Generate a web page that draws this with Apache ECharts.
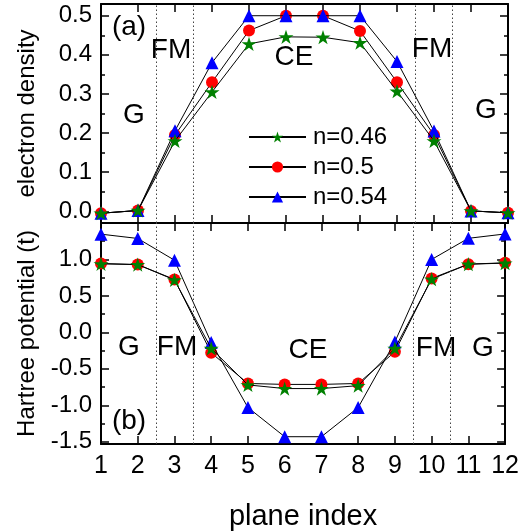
<!DOCTYPE html>
<html>
<head>
<meta charset="utf-8">
<script src="https://cdn.jsdelivr.net/npm/echarts@6/dist/echarts.min.js"></script>
<style>
  html, body { margin: 0; padding: 0; background: #fff; }
  #chart { width: 522px; height: 532px; }
</style>
</head>
<body>
<div id="chart"></div>
<script>
// plane index along the stack
const planes = [1, 2, 3, 4, 5, 6, 7, 8, 9, 10, 11, 12];

// series names (filling n)
const names = ['n=0.46', 'n=0.5', 'n=0.54'];

// (a) electron density per plane
const density046 = [-0.005, 0.002, 0.18, 0.305, 0.428, 0.446, 0.445, 0.431, 0.307, 0.18, 0.001, -0.004];
const density050 = [-0.005, 0.002, 0.195, 0.33, 0.462, 0.5, 0.5, 0.461, 0.33, 0.195, 0.001, -0.004];
const density054 = [-0.005, 0.002, 0.206, 0.38, 0.5, 0.5, 0.5, 0.5, 0.383, 0.205, 0.001, -0.004];

// (b) Hartree potential per plane, in units of t
const hartree046 = [0.94, 0.93, 0.72, -0.22, -0.72, -0.77, -0.77, -0.73, -0.22, 0.73, 0.935, 0.95];
const hartree050 = [0.945, 0.93, 0.726, -0.28, -0.70, -0.713, -0.713, -0.70, -0.266, 0.74, 0.936, 0.954];
const hartree054 = [1.347, 1.288, 0.99, -0.14, -1.03, -1.43, -1.43, -1.03, -0.13, 1.0, 1.29, 1.35];

// boundaries between magnetic regions
const boundaries = [2.5, 3.5, 9.5, 10.5];

const FONT = '"Liberation Sans", Arial, Helvetica, sans-serif';
const starPath = 'path://M100,0 L122.45,69.1 L195.1,69.1 L136.3,111.8 L158.8,180.9 L100,138.2 L41.2,180.9 L63.7,111.8 L4.9,69.1 L77.55,69.1 Z';

const pairs = v => planes.map((x, i) => [x, v[i]]);

const styles = {
  'n=0.46': { symbol: starPath, color: '#008000', size: 15, z: 4 },
  'n=0.5':  { symbol: 'circle', color: '#ff0000', size: 12, z: 2 },
  'n=0.54': { symbol: 'triangle', color: '#0000ff', size: 13, z: 3 }
};

function lineSeries(name, values, axisIdx) {
  const s = styles[name];
  return {
    name, type: 'line',
    xAxisIndex: axisIdx, yAxisIndex: axisIdx,
    data: pairs(values),
    symbol: s.symbol, symbolSize: s.size, symbolKeepAspect: true,
    showAllSymbol: true,
    z: s.z,
    clip: false,
    lineStyle: { color: '#000', width: 1 },
    itemStyle: { color: s.color, borderWidth: 0 },
    animation: false
  };
}

function boundaryLines(yMin, yMax) {
  return {
    silent: true, symbol: 'none', label: { show: false },
    lineStyle: { color: '#444', type: [1.5, 2.5], width: 1 },
    data: boundaries.map(b => [{ coord: [b, yMin] }, { coord: [b, yMax] }]),
    animation: false
  };
}

const axisLine = { show: true, onZero: false, lineStyle: { color: '#000', width: 2 } };
const tick = { show: true, inside: true, length: 8, lineStyle: { color: '#000', width: 1.5 } };
const minor = { show: true, splitNumber: 2, length: 4, lineStyle: { color: '#000', width: 1.5 } };

function xAxis(grid, pos, labels) {
  const a = {
    type: 'value', gridIndex: grid, position: pos, min: 1, max: 12, interval: 1,
    axisLine, axisTick: tick, splitLine: { show: false },
    axisLabel: { show: labels, color: '#000', fontSize: 25, fontFamily: FONT, margin: 10 }
  };
  if (labels) {
    a.name = 'plane index';
    a.nameLocation = 'middle';
    a.nameGap = 58;
    a.nameTextStyle = { color: '#000', fontSize: 29, fontFamily: FONT };
  }
  return a;
}

function yAxis(grid, pos, min, max, labels, name) {
  const a = {
    type: 'value', gridIndex: grid, position: pos, min, max, splitNumber: 5,
    axisLine, axisTick: tick, minorTick: minor, splitLine: { show: false },
    axisLabel: {
      show: labels, color: '#000', fontSize: 24, fontFamily: FONT, margin: 9,
      showMinLabel: false, showMaxLabel: false,
      formatter: v => (Math.abs(v) < 1e-9 ? 0 : v).toFixed(1)
    }
  };
  if (name) {
    a.name = name;
    a.nameLocation = 'middle';
    a.nameGap = 62;
    a.nameTextStyle = { color: '#000', fontSize: 24, fontFamily: FONT };
  }
  return a;
}

function label(text, x, y) {
  return {
    type: 'text', x, y, silent: true, z: 10,
    style: {
      text, fill: '#000', fontSize: 28, fontFamily: FONT,
      align: 'center', verticalAlign: 'middle',
      textAlign: 'center', textVerticalAlign: 'middle'
    }
  };
}

const topSeries = [
  lineSeries('n=0.5', density050, 0),
  lineSeries('n=0.54', density054, 0),
  lineSeries('n=0.46', density046, 0)
];
topSeries[0].markLine = boundaryLines(-0.03, 0.53);

const bottomSeries = [
  lineSeries('n=0.5', hartree050, 2),
  lineSeries('n=0.54', hartree054, 2),
  lineSeries('n=0.46', hartree046, 2)
];
bottomSeries[0].markLine = boundaryLines(-1.53, 1.5);

// secondary axes carry the mirrored ticks on the top and right frame edges
const option = {
  backgroundColor: '#fff',
  animation: false,
  grid: [
    { left: 101, right: 14, top: 4, height: 219 },
    { left: 101, right: 14, top: 223, height: 221 }
  ],
  xAxis: [
    xAxis(0, 'bottom', false),
    xAxis(0, 'top', false),
    xAxis(1, 'bottom', true),
    xAxis(1, 'top', false)
  ],
  yAxis: [
    yAxis(0, 'left', -0.03, 0.53, true, 'electron density'),
    yAxis(0, 'right', -0.03, 0.53, false),
    yAxis(1, 'left', -1.53, 1.5, true, 'Hartree potential (t)'),
    yAxis(1, 'right', -1.53, 1.5, false)
  ],
  legend: {
    data: names,
    orient: 'vertical',
    left: 243, top: 120,
    itemWidth: 57, itemHeight: 14, itemGap: 6,
    textStyle: { color: '#000', fontSize: 24, fontFamily: FONT, lineHeight: 24, padding: [0, 0, 0, 2] },
    inactiveColor: '#000'
  },
  series: [...topSeries, ...bottomSeries].concat([
    { type: 'line', xAxisIndex: 1, yAxisIndex: 1, data: [] },
    { type: 'line', xAxisIndex: 3, yAxisIndex: 3, data: [] }
  ]),
  graphic: [
    label('(a)', 129, 27),
    label('G', 134, 115),
    label('FM', 171, 50),
    label('CE', 294, 57),
    label('FM', 432, 49),
    label('G', 486, 110),
    label('G', 129, 347),
    label('FM', 177, 347),
    label('CE', 308, 350),
    label('FM', 436, 348),
    label('G', 483, 348),
    label('(b)', 129, 421)
  ]
};

const chart = echarts.init(document.getElementById('chart'), null, { renderer: 'canvas' });
chart.setOption(option);
</script>
</body>
</html>
